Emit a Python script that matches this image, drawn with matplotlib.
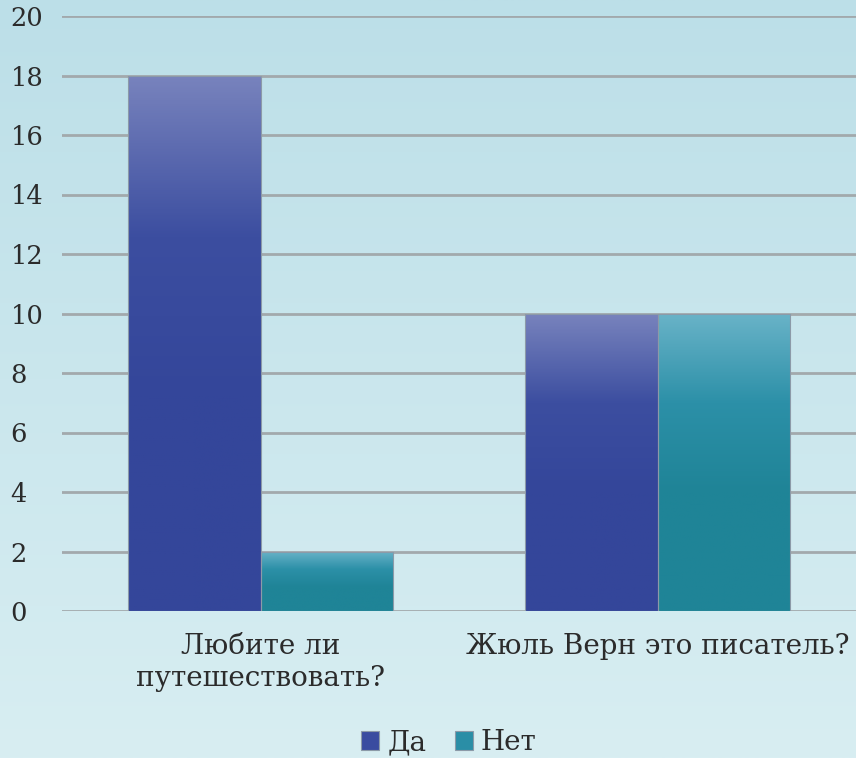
import numpy as np
import matplotlib.pyplot as plt
from matplotlib.colors import LinearSegmentedColormap

categories = ["Любите ли\nпутешествовать?", "Жюль Верн это писатель?"]
series = ["Да", "Нет"]
da = [18, 10]
net = [2, 10]
yticks = [0, 2, 4, 6, 8, 10, 12, 14, 16, 18, 20]

plt.rcParams['font.family'] = ['DejaVu Serif', 'Liberation Serif']

fig = plt.figure(figsize=(8.56, 7.58), dpi=100)

# background gradient
bg = fig.add_axes([0, 0, 1, 1], zorder=-10)
bg.axis('off')
grad = np.linspace(0, 1, 256).reshape(-1, 1)
bg_cmap = LinearSegmentedColormap.from_list('bg', ['#bcdfe8', '#d8eef2'])
bg.imshow(grad, aspect='auto', cmap=bg_cmap, extent=[0, 1, 0, 1], origin='upper')

ax = fig.add_axes([62/856, 1 - 611/758, 1 - 62/856, (611 - 16)/758])
ax.patch.set_alpha(0)

x = np.arange(len(categories))
w = 0.335
b1 = ax.bar(x - w/2, da, w, color='#3a4c9f', edgecolor='#8c9aa8', linewidth=0.8, zorder=3)
b2 = ax.bar(x + w/2, net, w, color='#2a8ba0', edgecolor='#8c9aa8', linewidth=0.8, zorder=3)

# vertical gradients inside bars
t = np.linspace(0, 1, 256)
ramp = np.clip(t / 0.6, 0, 1).reshape(-1, 1)
cm_da = LinearSegmentedColormap.from_list('da', ['#7883bd', '#3c4ea0', '#34469a'])
cm_net = LinearSegmentedColormap.from_list('net', ['#69b3c8', '#2c90a8', '#1f8497'])
for bars, cm in ((b1, cm_da), (b2, cm_net)):
    for p in bars:
        x0, y0 = p.get_x(), p.get_y()
        img = ax.imshow(ramp, aspect='auto', cmap=cm, vmin=0, vmax=1,
                        extent=[x0, x0 + p.get_width(), y0, y0 + p.get_height()],
                        origin='upper', zorder=3.5)
        img.set_clip_path(p)
        p.set_facecolor('none')
        p.set_zorder(4)

ax.set_xlim(-0.5, 1.5)
ax.set_ylim(0, 20)
ax.set_yticks(yticks)
ax.set_yticklabels([str(v) for v in yticks], ha='left')
ax.tick_params(axis='y', length=0, pad=37, labelsize=18.5, labelcolor='#2b2b2b')
ax.set_xticks(x)
ax.set_xticklabels(categories, fontsize=20, color='#2b2b2b', linespacing=1.25)
ax.tick_params(axis='x', length=0, pad=16)

for v in yticks:
    ax.axhline(v, color='#a2a9ac', linewidth=2.0, zorder=1)
for s in ax.spines.values():
    s.set_visible(False)

leg = fig.legend([b1, b2], series, loc='center', bbox_to_anchor=(449/856, 1 - 743/758),
                 ncol=2, frameon=False, fontsize=20, handlelength=0.65, handleheight=0.65,
                 handletextpad=0.3, columnspacing=1.0, labelcolor='#2b2b2b',
                 borderpad=0)
for h, c in zip(leg.legend_handles, ['#3a4ca0', '#2a8ea6']):
    h.set_facecolor(c)
    h.set_edgecolor('#8c9aa8')

fig.savefig('out.png', dpi=100)
